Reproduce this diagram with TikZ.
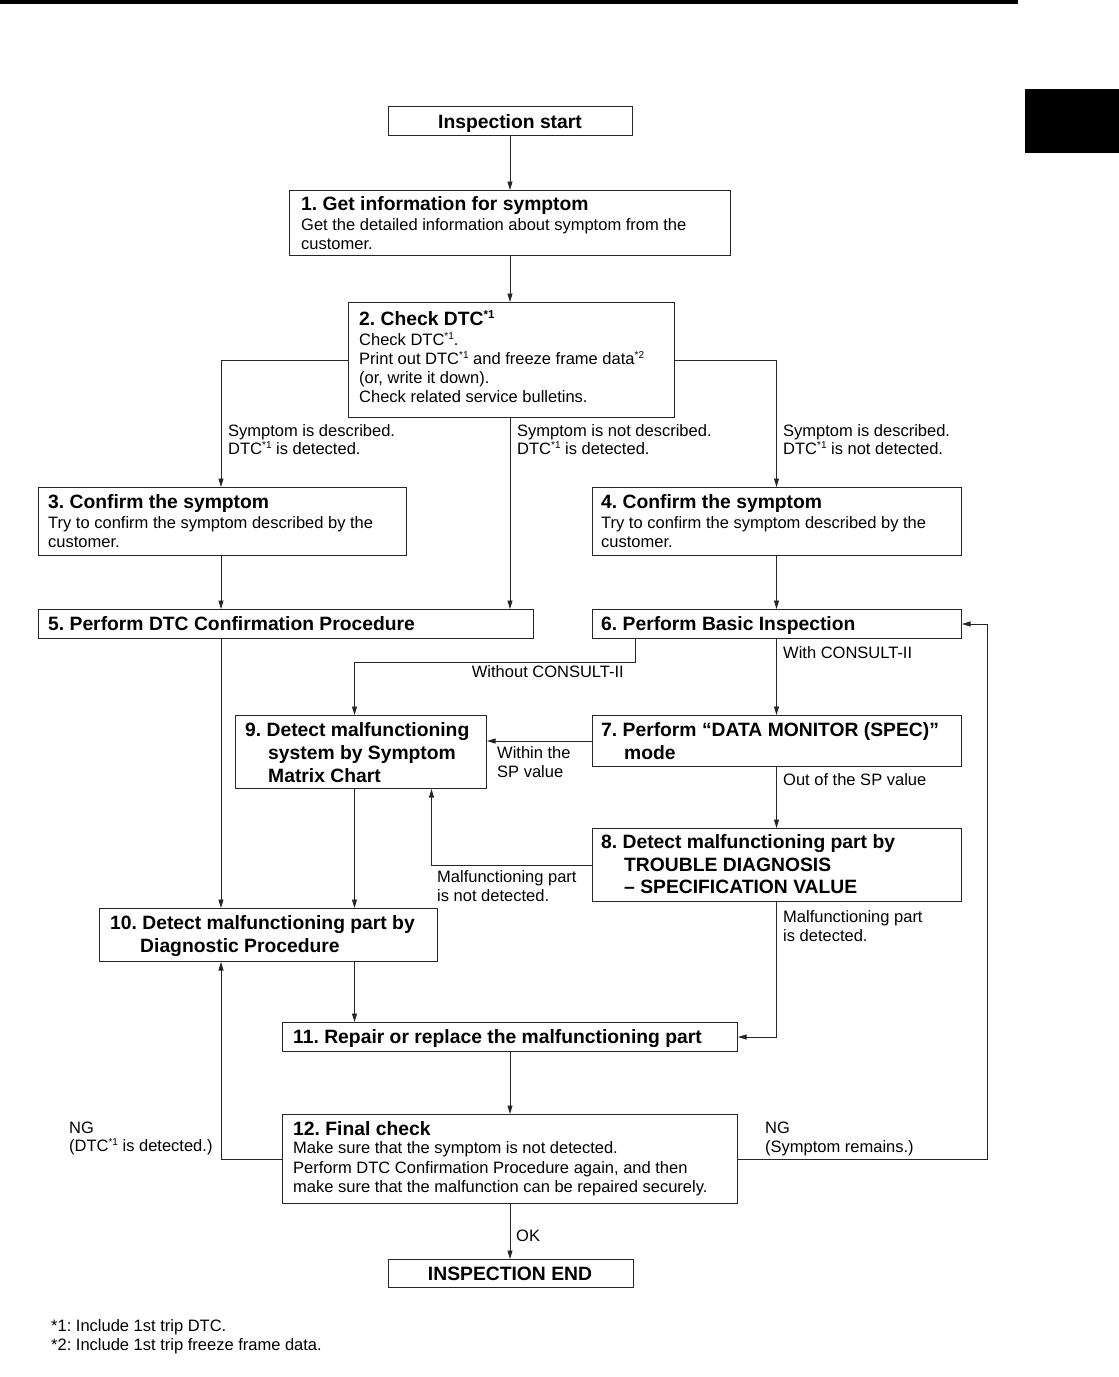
\documentclass[tikz,border=0pt]{standalone}
\usepackage{fontspec}
\setmainfont{Liberation Sans}
\usetikzlibrary{arrows.meta}
\newcommand\ttlfont{\frenchspacing\bfseries\fontsize{19.3}{22}\selectfont}
\newcommand\bdyfont{\frenchspacing\fontsize{16.5}{19}\selectfont}
\newcommand\sps[1]{\raisebox{0.32em}{\fontsize{10}{10}\selectfont #1}}
\newcommand\spt[1]{\raisebox{0.32em}{\fontsize{11.5}{12}\selectfont #1}}
\begin{document}
\begin{tikzpicture}[x=1pt,y=-1pt,
  box/.style={draw=black!85, line width=1pt, inner sep=0pt, anchor=north west},
  ttl/.style={font=\ttlfont, anchor=base west, inner sep=0pt},
  bdy/.style={font=\bdyfont, anchor=base west, inner sep=0pt},
  conn/.style={draw=black!85, line width=0.9pt},
  arr/.style={conn, -{Triangle[length=8.5pt,width=5pt]}}]
\useasboundingbox (0,0) rectangle (1119,1377);
% page decorations
\fill[black] (0,0) rectangle (1018,4);
\fill[black] (1025,89) rectangle (1119,153);
% column coordinates
\coordinate (cx) at (510,0);
\coordinate (xl) at (221,0);
\coordinate (xr) at (776.5,0);
\coordinate (xm) at (354.5,0);
\coordinate (xn) at (431.5,0);
\coordinate (xf) at (987,0);
\coordinate (k1) at (635,662);
% boxes
\node[box, minimum width=244, minimum height=29] (bs) at (388,106) {};
\node[box, minimum width=441, minimum height=65] (b1) at (289,190) {};
\node[box, minimum width=326, minimum height=115] (b2) at (348,302) {};
\node[box, minimum width=368, minimum height=68] (b3) at (38,487) {};
\node[box, minimum width=369, minimum height=68] (b4) at (592,487) {};
\node[box, minimum width=495, minimum height=29] (b5) at (38,609) {};
\node[box, minimum width=369, minimum height=29] (b6) at (592,609) {};
\node[box, minimum width=251, minimum height=73] (b9) at (235,715) {};
\node[box, minimum width=369, minimum height=51] (b7) at (592,715) {};
\node[box, minimum width=369, minimum height=73] (b8) at (592,828) {};
\node[box, minimum width=338, minimum height=53] (b10) at (99,908) {};
\node[box, minimum width=455, minimum height=29] (b11) at (282,1022) {};
\node[box, minimum width=455, minimum height=89] (b12) at (282,1114) {};
\node[box, minimum width=245, minimum height=28] (be) at (388,1259) {};
% box texts
\node[ttl, anchor=base] (ts) at (510,128) {Inspection start};
\node[ttl] (t1a) at (301,210) {1. Get information for symptom};
\node[bdy] (t1b) at (301,230) {Get the detailed information about symptom from the};
\node[bdy] (t1c) at (301,249) {customer.};
\node[ttl] (t2a) at (359,325) {2. Check DTC\spt{*1}};
\node[bdy] (t2b) at (359,345) {Check DTC\sps{*1}.};
\node[bdy] (t2c) at (359,364) {Print out DTC\sps{*1} and freeze frame data\sps{*2}};
\node[bdy] (t2d) at (359,383) {(or, write it down).};
\node[bdy] (t2e) at (359,402) {Check related service bulletins.};
\node[ttl] (t3a) at (48,508) {3. Confirm the symptom};
\node[bdy] (t3b) at (48,528) {Try to confirm the symptom described by the};
\node[bdy] (t3c) at (48,547) {customer.};
\node[ttl] (t4a) at (601,508) {4. Confirm the symptom};
\node[bdy] (t4b) at (601,528) {Try to confirm the symptom described by the};
\node[bdy] (t4c) at (601,547) {customer.};
\node[ttl] (t5a) at (48,630) {5. Perform DTC Confirmation Procedure};
\node[ttl] (t6a) at (601,630) {6. Perform Basic Inspection};
\node[ttl] (t9a) at (245,736) {9. Detect malfunctioning};
\node[ttl] (t9b) at (268,759) {system by Symptom};
\node[ttl] (t9c) at (268,782) {Matrix Chart};
\node[ttl] (t7a) at (601,736) {7. Perform “DATA MONITOR (SPEC)”};
\node[ttl] (t7b) at (624,759) {mode};
\node[ttl] (t8a) at (601,848) {8. Detect malfunctioning part by};
\node[ttl] (t8b) at (624,871) {TROUBLE DIAGNOSIS};
\node[ttl] (t8c) at (624,893) {– SPECIFICATION VALUE};
\node[ttl] (t10a) at (110,929) {10. Detect malfunctioning part by};
\node[ttl] (t10b) at (140,952) {Diagnostic Procedure};
\node[ttl] (t11a) at (293,1043) {11. Repair or replace the malfunctioning part};
\node[ttl] (t12a) at (293,1135) {12. Final check};
\node[bdy] (t12b) at (293,1153.5) {Make sure that the symptom is not detected.};
\node[bdy] (t12c) at (293,1173) {Perform DTC Confirmation Procedure again, and then};
\node[bdy] (t12d) at (293,1192) {make sure that the malfunction can be repaired securely.};
\node[ttl, anchor=base] (tea) at (510,1280) {INSPECTION END};
% connectors
\draw[arr] (bs.south -| cx) -- (cx |- b1.north);
\draw[arr] (cx |- b1.south) -- (cx |- b2.north);
\draw[arr] (b2.west) -| (xl |- b3.north);
\draw[arr] (b2.east) -| (xr |- b4.north);
\draw[arr] (cx |- b2.south) -- (cx |- b5.north);
\draw[arr] (xl |- b3.south) -- (xl |- b5.north);
\draw[arr] (xr |- b4.south) -- (xr |- b6.north);
\draw[arr] (xl |- b5.south) -- (xl |- b10.north);
\draw[arr] (k1 |- b6.south) -- (k1) -| (xm |- b9.north);
\draw[arr] (xr |- b6.south) -- (xr |- b7.north);
\draw[arr] (b7.west) -- (b7.west -| b9.east);
\draw[arr] (xr |- b7.south) -- (xr |- b8.north);
\draw[arr] (b8.west) -| (xn |- b9.south);
\draw[arr] (xm |- b9.south) -- (xm |- b10.north);
\draw[arr] (xm |- b10.south) -- (xm |- b11.north);
\draw[arr] (xr |- b8.south) |- (b11.east);
\draw[arr] (cx |- b11.south) -- (cx |- b12.north);
\draw[arr] (b12.west) -| (xl |- b10.south);
\draw[arr] (b12.east) -| (xf |- b6.east) -- (b6.east);
\draw[arr] (cx |- b12.south) -- (cx |- be.north);
% connector labels
\node[bdy] (l1a) at (228,436) {Symptom is described.};
\node[bdy] (l1b) at (228,454) {DTC\sps{*1} is detected.};
\node[bdy] (l2a) at (517,436) {Symptom is not described.};
\node[bdy] (l2b) at (517,454) {DTC\sps{*1} is detected.};
\node[bdy] (l3a) at (783,436) {Symptom is described.};
\node[bdy] (l3b) at (783,454) {DTC\sps{*1} is not detected.};
\node[bdy, anchor=base east] (l4) at (624,677) {Without CONSULT-II};
\node[bdy] (l5) at (783,658) {With CONSULT-II};
\node[bdy] (l6a) at (497,758) {Within the};
\node[bdy] (l6b) at (497,777) {SP value};
\node[bdy] (l7) at (783,785) {Out of the SP value};
\node[bdy] (l8a) at (437,882) {Malfunctioning part};
\node[bdy] (l8b) at (437,901) {is not detected.};
\node[bdy] (l9a) at (783,922) {Malfunctioning part};
\node[bdy] (l9b) at (783,941) {is detected.};
\node[bdy] (l10a) at (69,1133) {NG};
\node[bdy] (l10b) at (69,1151) {(DTC\sps{*1} is detected.)};
\node[bdy] (l11a) at (765,1133) {NG};
\node[bdy] (l11b) at (765,1152) {(Symptom remains.)};
\node[bdy] (l12) at (516,1241) {OK};
% footnotes
\node[bdy] (f1) at (51,1331) {*1: Include 1st trip DTC.};
\node[bdy] (f2) at (51,1350) {*2: Include 1st trip freeze frame data.};
\end{tikzpicture}
\end{document}
